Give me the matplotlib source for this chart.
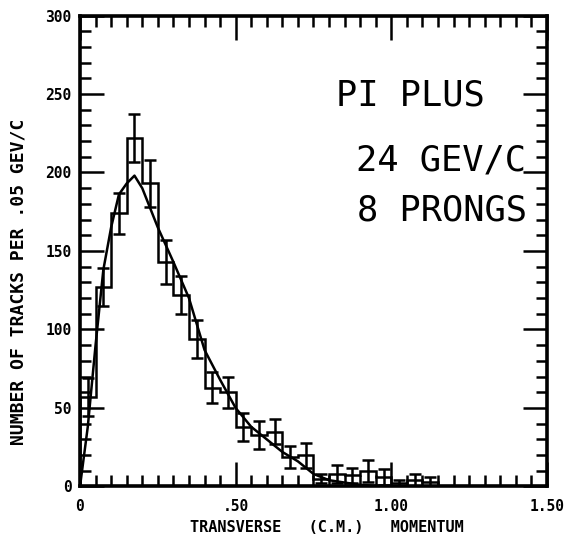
import numpy as np
import matplotlib
matplotlib.use("Agg")
import matplotlib.pyplot as plt
from matplotlib.ticker import MultipleLocator, FixedLocator

# Transverse momentum distribution, 0.05 GeV/c bins
bin_width = 0.05
counts = [57, 127, 174, 222, 193, 143, 122, 94, 63, 60, 38, 33, 35,
          19, 20, 5, 8, 7, 10, 6, 2, 4, 3]
errors = [12, 12, 13, 15, 15, 14, 12, 12, 10, 10, 9, 9, 8,
          7, 8, 3, 6, 5, 7, 5, 2, 4, 3]

# Fitted curve
curve_x = [0.0, 0.025, 0.05, 0.075, 0.10, 0.125, 0.15, 0.175, 0.20,
           0.25, 0.30, 0.35, 0.40, 0.45, 0.50, 0.55, 0.60, 0.65,
           0.70, 0.75, 0.80, 0.90, 1.00]
curve_y = [0, 38, 90, 138, 165, 186, 193, 198, 190,
           165, 143, 120, 87, 68, 50, 38, 30, 22,
           16, 8, 4, 1, 0]

x_ticks = [0.0, 0.5, 1.0, 1.5]
x_ticklabels = ["0", ".50", "1.00", "1.50"]
y_ticks = [0, 50, 100, 150, 200, 250, 300]
y_ticklabels = ["0", "50", "100", "150", "200", "250", "300"]

annotations = ["PI PLUS", "24 GEV/C", "8 PRONGS"]

edges = np.arange(len(counts) + 1) * bin_width
centers = edges[:-1] + bin_width / 2

fig = plt.figure(figsize=(5.73, 5.46), dpi=100)
ax = fig.add_axes([0.1396, 0.109, 0.815, 0.8626])

lw = 1.8
ax.stairs(counts, edges, color="black", lw=lw, baseline=0)
ax.errorbar(centers, counts, yerr=errors, fmt="none", ecolor="black",
            elinewidth=lw, capsize=4.6, capthick=lw)
ax.plot(curve_x, curve_y, color="black", lw=lw)

ax.set_xlim(0, 1.5)
ax.set_ylim(0, 300)

for s in ax.spines.values():
    s.set_linewidth(2.6)

ax.xaxis.set_major_locator(FixedLocator(x_ticks))
ax.xaxis.set_minor_locator(MultipleLocator(0.05))
ax.yaxis.set_major_locator(FixedLocator(y_ticks))
ax.yaxis.set_minor_locator(MultipleLocator(10))
ax.set_xticklabels(x_ticklabels)
ax.set_yticklabels(y_ticklabels)

ax.tick_params(which="both", direction="in", top=True, right=True,
               width=1.8, colors="black")
ax.tick_params(which="major", length=17)
ax.tick_params(which="minor", length=8)
ax.tick_params(axis="x", which="major", pad=9)
ax.tick_params(axis="y", which="major", pad=6)

for lab in ax.get_xticklabels() + ax.get_yticklabels():
    lab.set_fontfamily("DejaVu Sans Mono")
    lab.set_fontweight("bold")
    lab.set_fontsize(10.5)

ax.set_xlabel("TRANSVERSE   (C.M.)   MOMENTUM", family="DejaVu Sans Mono",
              weight="bold", fontsize=11)
ax.xaxis.set_label_coords(0.529, -0.072)
ax.set_ylabel("NUMBER OF TRACKS PER .05 GEV/C", family="DejaVu Sans Mono",
              weight="bold", fontsize=13)
ax.yaxis.set_label_coords(-0.113, 0.434)

ann_pos = [(0.548, 0.831), (0.591, 0.693), (0.593, 0.587)]
for txt, (xx, yy) in zip(annotations, ann_pos):
    ax.text(xx, yy, txt, transform=ax.transAxes, ha="left", va="center",
            family="DejaVu Sans Mono", fontsize=25.5)

fig.savefig("out.png", dpi=100)
